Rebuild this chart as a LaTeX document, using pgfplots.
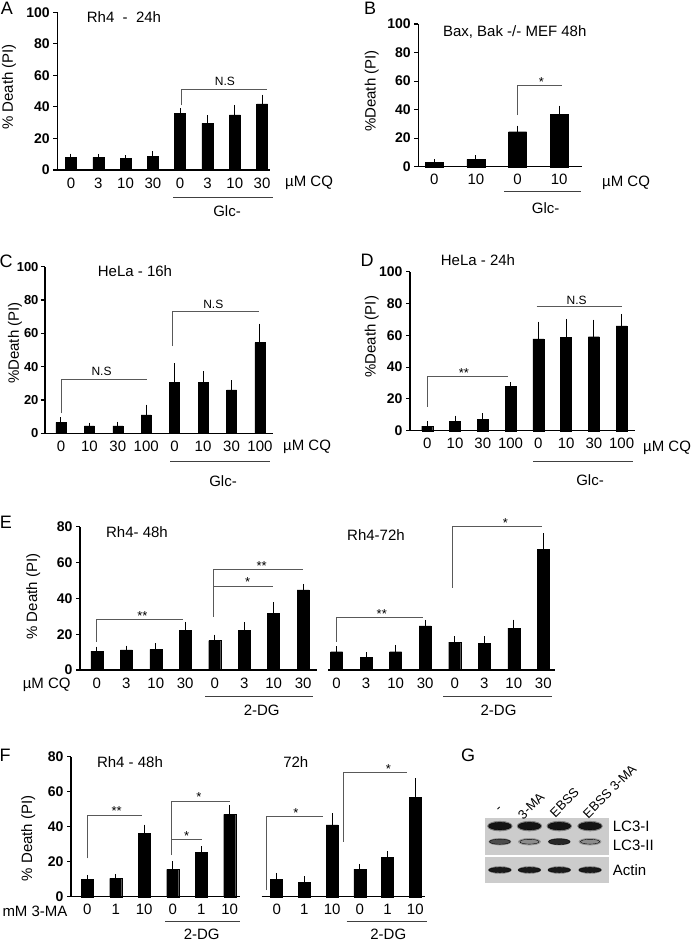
\documentclass[border=0pt]{standalone}
\usepackage{fontspec}
\setmainfont{Liberation Sans}
\usepackage{pgfplots}
\pgfplotsset{compat=1.18}
\newcommand{\fs}[1]{\fontsize{#1}{#1}\selectfont}
\pgfplotsset{
  panel/.style={
    scale only axis, clip=false, anchor=south west,
    axis x line*=bottom, axis y line*=left,
    axis line style={line width=1.3pt, -},
    ymin=0,
    tick align=outside, major tick length=4pt,
    ytick style={line width=1.1pt, black},
    xtick style={draw=none},
    yticklabel style={font=\bfseries\fs{14}},
    xticklabel style={font=\fs{15}},
    /pgf/number format/assume math mode=true,
    ybar, bar width=11pt,
  },
  noy/.style={axis y line=none, ytick=\empty},
  bars/.style={fill=black, draw=black, error bars/.cd, y dir=plus, y explicit,
     error bar style={line width=1pt, black}, error mark options={mark size=2.8pt, line width=1pt, black}},
}
\tikzset{br/.style={line width=0.8pt, black!65},
  st/.style={anchor=base, font=\fs{13}, inner sep=0pt, yshift=-1pt},
  ns/.style={font=\fs{12}, inner sep=0pt},
  t15/.style={font=\fs{15}, inner sep=0pt},
  pl/.style={font=\fs{18}, inner sep=0pt},
  gl/.style={line width=0.9pt, black!75}}
\begin{document}
\begin{tikzpicture}
\useasboundingbox (0pt,0pt) rectangle (693pt,-942pt);
% ---------------- A
\begin{axis}[panel, at={(57.3pt,-170pt)}, width=212.7pt, height=157.7pt,
  xmin=-0.5, xmax=7.29, ymax=100, ytick={0,20,...,100},
  xtick={0,...,7}, xticklabels={0,3,10,30,0,3,10,30}, bar width=11pt]
\addplot[bars] coordinates {(0,8) +- (0,0.6) (1,8) +- (0,0.5) (2,7.2) +- (0,0.4) (3,8.5) +- (0,1.6)
  (4,35.9) +- (0,1.5) (5,29.6) +- (0,3.2) (6,34.9) +- (0,4.6) (7,41.9) +- (0,4.2)};
\draw[br] (axis cs:4.05,41) |- (axis cs:7.17,51.2);
\node[ns] at (axis cs:5.64,56) {N.S};
\end{axis}
\node[t15] at (124pt,-17pt) {Rh4\ \ -\ \ 24h};
\node[pl] at (7pt,-8pt) {A};
\node[t15, rotate=90] at (9pt,-87pt) {\% Death (PI)};
\node[t15, anchor=west] at (285pt,-182.7pt) {µM CQ};
\draw[gl] (173pt,-197pt) -- (273pt,-197pt);
\node[t15] at (227pt,-210.7pt) {Glc-};
% ---------------- B
\begin{axis}[panel, at={(418.3pt,-166.7pt)}, width=163.4pt, height=142.7pt,
  xmin=-0.385, xmax=3.54, ymax=100, ytick={0,20,...,100},
  xtick={0,...,3}, xticklabels={0,10,0,10}, bar width=18pt]
\addplot[bars] coordinates {(0,3.0) +- (0,0.3) (1,5.1) +- (0,0.9) (2,24.5) +- (0,2.4) (3,36.9) +- (0,4.0)};
\draw[br] (axis cs:1.99,36.2) |- (axis cs:3.06,57.2);
\node[st] at (axis cs:2.57,57.2) {*};
\end{axis}
\node[t15] at (514.7pt,-31.7pt) {Bax, Bak -/- MEF 48h};
\node[pl] at (370pt,-8pt) {B};
\node[t15, rotate=90] at (371.7pt,-91pt) {\%Death (PI)};
\node[t15, anchor=west] at (602pt,-182.7pt) {µM CQ};
\draw[gl] (504pt,-191.7pt) -- (580.7pt,-191.7pt);
\node[t15] at (545.7pt,-208.3pt) {Glc-};
% ---------------- C
\begin{axis}[panel, at={(45pt,-433.3pt)}, width=228.3pt, height=166.6pt,
  xmin=-0.56, xmax=7.47, ymax=100, ytick={0,20,...,100},
  yticklabel style={font=\bfseries\fs{13}, xshift=1pt},
  xtick={0,...,7}, xticklabels={0,10,30,100,0,10,30,100}, bar width=10pt]
\addplot[bars] coordinates {(0,6.6) +- (0,1.4) (1,4.4) +- (0,0.4) (2,4.4) +- (0,1.0) (3,11) +- (0,4.6)
  (4,30.6) +- (0,9.8) (5,30.4) +- (0,5.2) (6,26) +- (0,4.2) (7,54.4) +- (0,9.8)};
\draw[br] (axis cs:0,12) |- (axis cs:3.02,32.4);
\node[ns] at (axis cs:1.43,37) {N.S};
\draw[br] (axis cs:3.93,52.4) |- (axis cs:6.97,73);
\node[ns] at (axis cs:5.36,77.6) {N.S};
\end{axis}
\node[t15] at (135pt,-271pt) {HeLa - 16h};
\node[pl] at (6pt,-261pt) {C};
\node[t15, rotate=90] at (15pt,-343pt) {\%Death (PI)};
\node[t15, anchor=west] at (283pt,-447pt) {µM CQ};
\draw[gl] (170pt,-461.7pt) -- (270pt,-461.7pt);
\node[t15] at (223pt,-480.7pt) {Glc-};
% ---------------- D
\begin{axis}[panel, at={(410pt,-430.7pt)}, width=225pt, height=159pt,
  xmin=-0.62, xmax=7.48, ymax=100, ytick={0,20,...,100},
  xtick={0,...,7}, xticklabels={0,10,30,100,0,10,30,100}, bar width=11pt]
\addplot[bars] coordinates {(0,2.9) +- (0,1.3) (1,6.1) +- (0,1.7) (2,7.3) +- (0,1.9) (3,27.7) +- (0,1.0)
  (4,57.7) +- (0,9.2) (5,58.5) +- (0,10.1) (6,59.1) +- (0,9.0) (7,66) +- (0,5.7)};
\draw[br] (axis cs:0,15.1) |- (axis cs:2.89,34.4);
\node[st] at (axis cs:1.32,34.4) {**};
\draw[br] (axis cs:3.94,78) -- (axis cs:7.0,78);
\node[ns] at (axis cs:5.38,82.2) {N.S};
\end{axis}
\node[t15] at (478pt,-260pt) {HeLa - 24h};
\node[pl] at (367pt,-260pt) {D};
\node[t15, rotate=90] at (371.7pt,-336.7pt) {\%Death (PI)};
\node[t15, anchor=west] at (643pt,-448.3pt) {µM CQ};
\draw[gl] (533.3pt,-461.7pt) -- (632.7pt,-461.7pt);
\node[t15] at (590pt,-480pt) {Glc-};
% ---------------- E (48h)
\begin{axis}[panel, at={(80pt,-670pt)}, width=237.3pt, height=143.3pt,
  xmin=-0.57, xmax=7.48, ymax=80, ytick={0,20,...,80},
  xtick={0,...,7}, xticklabels={0,3,10,30,0,3,10,30}, bar width=12pt]
\addplot[bars] coordinates {(0,10.6) +- (0,0.9) (1,11.2) +- (0,0.9) (2,11.5) +- (0,1.9) (3,22.3) +- (0,3.0)
  (4,16.4) +- (0,1.8) (5,22) +- (0,3.1) (6,31.6) +- (0,4.7) (7,44.7) +- (0,1.8)};
\draw[br] (axis cs:0,15.8) |- (axis cs:2.94,28.3);
\node[st] at (axis cs:1.55,28.3) {**};
\draw[br] (axis cs:3.95,29.8) |- (axis cs:7.0,56.2);
\draw[br] (axis cs:3.95,46.9) -- (axis cs:5.97,46.9);
\node[st] at (axis cs:5.12,46.9) {*};
\node[st] at (axis cs:5.59,56.2) {**};
\end{axis}
% ---------------- E (72h)
\begin{axis}[panel, noy, at={(328.3pt,-670pt)}, width=227.1pt, height=143.3pt,
  xmin=-0.28, xmax=7.41, ymax=80,
  xtick={0,...,7}, xticklabels={0,3,10,30,0,3,10,30}, bar width=12pt]
\addplot[bars] coordinates {(0,10.2) +- (0,1.5) (1,7.1) +- (0,1.3) (2,10.2) +- (0,2.3) (3,24.6) +- (0,1.8)
  (4,15.5) +- (0,1.7) (5,15.0) +- (0,2.4) (6,23.4) +- (0,3.1) (7,67.3) +- (0,7.5)};
\draw[br] (axis cs:0,15.8) |- (axis cs:2.94,29.4);
\node[st] at (axis cs:1.53,29.4) {**};
\draw[br] (axis cs:3.93,45.8) |- (axis cs:6.96,80);
\node[st] at (axis cs:5.72,80) {*};
\end{axis}
\node[t15] at (137pt,-531.7pt) {Rh4- 48h};
\node[t15] at (376pt,-535pt) {Rh4-72h};
\node[pl] at (6pt,-522.7pt) {E};
\node[t15, rotate=90] at (33.3pt,-596.7pt) {\% Death (PI)};
\node[t15] at (46.7pt,-685pt) {µM CQ};
\draw[gl] (205pt,-696.7pt) -- (313.3pt,-696.7pt);
\node[t15] at (261.7pt,-710pt) {2-DG};
\draw[gl] (443pt,-696.7pt) -- (552pt,-696.7pt);
\node[t15] at (498.5pt,-710pt) {2-DG};
% ---------------- F (48h)
\begin{axis}[panel, at={(71pt,-896.7pt)}, width=169pt, height=140pt,
  xmin=-0.57, xmax=5.36, ymax=80, ytick={0,20,...,80},
  xtick={0,...,5}, xticklabels={0,1,10,0,1,10}, bar width=12pt]
\addplot[bars] coordinates {(0,9.9) +- (0,1.0) (1,10.5) +- (0,0.9) (2,36.2) +- (0,3.4)
  (3,15.6) +- (0,3.1) (4,25.3) +- (0,1.9) (5,47) +- (0,3.9)};
\draw[br] (axis cs:0,21.9) |- (axis cs:1.91,46.7);
\node[st] at (axis cs:1.03,46.7) {**};
\draw[br] (axis cs:2.96,23.8) |- (axis cs:5.0,54.7);
\draw[br] (axis cs:2.96,32.8) -- (axis cs:4.01,32.8);
\node[st] at (axis cs:3.49,32.8) {*};
\node[st] at (axis cs:3.92,54.7) {*};
\end{axis}
% ---------------- F (72h)
\begin{axis}[panel, noy, at={(261.7pt,-896.7pt)}, width=163.3pt, height=140pt,
  xmin=-0.54, xmax=5.35, ymax=80,
  xtick={0,...,5}, xticklabels={0,1,10,0,1,10}, bar width=12pt]
\addplot[bars] coordinates {(0,10.1) +- (0,1.9) (1,8.2) +- (0,1.9) (2,41) +- (0,5.1)
  (3,15.8) +- (0,1.3) (4,22.5) +- (0,1.9) (5,56.6) +- (0,9.5)};
\draw[br] (axis cs:-0.36,3.8) |- (axis cs:1.68,45.7);
\node[st] at (axis cs:0.69,45.7) {*};
\draw[br] (axis cs:2.4,31.4) |- (axis cs:4.69,71);
\node[st] at (axis cs:4.03,71) {*};
\end{axis}
\node[t15] at (130pt,-761.7pt) {Rh4 - 48h};
\node[t15] at (295.8pt,-761.7pt) {72h};
\node[pl] at (5pt,-755pt) {F};
\node[t15, rotate=90] at (28.3pt,-838.3pt) {\% Death (PI)};
\node[t15] at (35pt,-911.7pt) {mM 3-MA};
\draw[gl] (165pt,-921pt) -- (240pt,-921pt);
\node[t15] at (201.7pt,-934pt) {2-DG};
\draw[gl] (346.7pt,-921pt) -- (426.7pt,-921pt);
\node[t15] at (388.3pt,-934pt) {2-DG};
% ---------------- G (blot)
\begin{axis}[at={(485pt,-883.3pt)}, anchor=south west, scale only axis, width=124.3pt, height=65pt,
  xmin=0, xmax=4, ymin=0, ymax=1, axis lines=none, clip=false]
\fill[black!20] (axis cs:0,0) rectangle (axis cs:4,0.409);
\fill[black!20] (axis cs:0,0.435) rectangle (axis cs:4,1);
% LC3-I
\addplot[only marks, mark=*, mark size=5pt, mark options={xscale=2.5, draw=none, fill=black, opacity=0.3}]
  coordinates {(0.48,0.88) (1.43,0.88) (2.39,0.88) (3.38,0.88)};
\addplot[only marks, mark=*, mark size=3.8pt, mark options={xscale=3.0, draw=none, fill=black!92}]
  coordinates {(0.48,0.88) (1.43,0.88) (2.39,0.88) (3.38,0.88)};
% LC3-II
\addplot[only marks, mark=*, mark size=3.5pt, mark options={xscale=3.2, draw=none, fill=black, opacity=0.2}]
  coordinates {(0.48,0.64) (1.43,0.64) (2.39,0.64) (3.38,0.64)};
\addplot[only marks, mark=*, mark size=2.6pt, mark options={xscale=4, draw=none, fill=black!70}]
  coordinates {(0.48,0.64)};
\addplot[only marks, mark=*, mark size=2.4pt, mark options={xscale=4, draw=none, fill=black!45}]
  coordinates {(1.43,0.64) (3.38,0.64)};
\addplot[only marks, mark=*, mark size=2.9pt, mark options={xscale=3.7, draw=none, fill=black!85}]
  coordinates {(2.39,0.64)};
% Actin
\addplot[only marks, mark=*, mark size=3.6pt, mark options={xscale=3.2, draw=none, fill=black, opacity=0.25}]
  coordinates {(0.48,0.205) (1.43,0.205) (2.39,0.205) (3.38,0.205)};
\addplot[only marks, mark=*, mark size=2.6pt, mark options={xscale=4.3, draw=none, fill=black!90}]
  coordinates {(0.48,0.205) (1.43,0.205) (2.39,0.205) (3.38,0.205)};
\end{axis}
\node[pl] at (468pt,-755pt) {G};
\node[t15, anchor=west] at (612.7pt,-826pt) {LC3-I};
\node[t15, anchor=west] at (612.7pt,-845pt) {LC3-II};
\node[t15, anchor=west] at (612.7pt,-870pt) {Actin};
\node[font=\fs{13}, inner sep=0pt, rotate=45, anchor=west] at (498pt,-811pt) {-};
\node[font=\fs{13}, inner sep=0pt, rotate=45, anchor=west] at (520pt,-817pt) {3-MA};
\node[font=\fs{13}, inner sep=0pt, rotate=45, anchor=west] at (552pt,-815pt) {EBSS};
\node[font=\fs{13}, inner sep=0pt, rotate=45, anchor=west] at (585pt,-816pt) {EBSS 3-MA};
\end{tikzpicture}
\end{document}
